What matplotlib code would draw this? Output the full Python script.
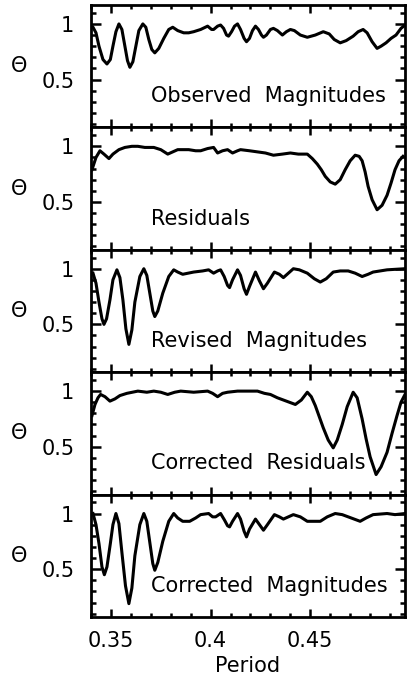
import matplotlib
matplotlib.use("Agg")
import matplotlib.pyplot as plt
from matplotlib.ticker import MultipleLocator, FixedLocator

plt.rcParams['font.family'] = ['DejaVu Sans']

# ---- data ----
obs_p = [0.341, 0.3425, 0.344, 0.346, 0.348, 0.3497, 0.351, 0.3525, 0.354, 0.3555,
         0.357, 0.3583, 0.3595, 0.361, 0.3625, 0.364, 0.366, 0.3675, 0.369, 0.3705,
         0.372, 0.374, 0.3765, 0.379, 0.381, 0.3835, 0.3865, 0.389, 0.3915, 0.395,
         0.3985, 0.4005, 0.4015, 0.4035, 0.405, 0.4065, 0.408, 0.409, 0.4105, 0.412,
         0.4135, 0.415, 0.4168, 0.418, 0.4195, 0.421, 0.4225, 0.424, 0.4255, 0.4265,
         0.428, 0.430, 0.4315, 0.4335, 0.436, 0.438, 0.440, 0.442, 0.445, 0.4485,
         0.4525, 0.4565, 0.4595, 0.462, 0.465, 0.468, 0.4715, 0.474, 0.4765, 0.4785,
         0.481, 0.4835, 0.4855, 0.488, 0.4905, 0.493, 0.4955, 0.4975]
obs_t = [0.97, 0.92, 0.80, 0.68, 0.64, 0.68, 0.80, 0.93, 1.00, 0.95,
         0.80, 0.67, 0.61, 0.66, 0.80, 0.94, 1.00, 0.97, 0.86, 0.77,
         0.74, 0.78, 0.87, 0.95, 0.97, 0.94, 0.92, 0.92, 0.93, 0.95,
         0.98, 0.95, 0.95, 0.98, 0.99, 0.96, 0.90, 0.89, 0.93, 0.98,
         1.00, 0.95, 0.87, 0.84, 0.87, 0.94, 0.98, 0.95, 0.90, 0.88,
         0.90, 0.95, 0.96, 0.94, 0.90, 0.93, 0.95, 0.94, 0.90, 0.88,
         0.90, 0.93, 0.91, 0.86, 0.83, 0.85, 0.89, 0.93, 0.95, 0.92,
         0.84, 0.78, 0.80, 0.83, 0.87, 0.90, 0.96, 0.99]

res_p = [0.3405, 0.3425, 0.3445, 0.3465, 0.349, 0.351, 0.354, 0.357, 0.3605, 0.3635,
         0.367, 0.3715, 0.375, 0.3785, 0.381, 0.3835, 0.389, 0.3925, 0.395, 0.3985,
         0.4015, 0.4035, 0.406, 0.4085, 0.411, 0.4135, 0.415, 0.4195, 0.4235, 0.4275,
         0.4315, 0.436, 0.440, 0.444, 0.4485, 0.451, 0.4535, 0.4555, 0.4575, 0.460,
         0.4625, 0.465, 0.4675, 0.470, 0.4725, 0.4745, 0.476, 0.4775, 0.479, 0.481,
         0.4835, 0.486, 0.4885, 0.4905, 0.4925, 0.4945, 0.4965]
res_t = [0.79, 0.90, 0.96, 0.93, 0.89, 0.93, 0.97, 0.99, 1.00, 1.00,
         0.99, 0.99, 0.97, 0.93, 0.95, 0.97, 0.97, 0.96, 0.96, 0.98,
         0.99, 0.94, 0.96, 0.97, 0.94, 0.96, 0.97, 0.96, 0.95, 0.94,
         0.92, 0.93, 0.94, 0.93, 0.93, 0.89, 0.84, 0.79, 0.73, 0.68,
         0.66, 0.70, 0.79, 0.87, 0.92, 0.91, 0.87, 0.77, 0.64, 0.52,
         0.43, 0.47, 0.56, 0.67, 0.79, 0.87, 0.91]

rev_p = [0.341, 0.3425, 0.344, 0.3455, 0.3465, 0.3478, 0.3495, 0.351, 0.353, 0.3545,
         0.356, 0.3575, 0.359, 0.3605, 0.362, 0.3645, 0.3665, 0.368, 0.3695, 0.371,
         0.372, 0.3735, 0.376, 0.379, 0.3815, 0.3835, 0.386, 0.3915, 0.396, 0.399,
         0.4015, 0.4035, 0.405, 0.4068, 0.4085, 0.4095, 0.411, 0.4135, 0.415, 0.4168,
         0.418, 0.4195, 0.4225, 0.4245, 0.4265, 0.4285, 0.432, 0.4345, 0.4365, 0.439,
         0.4415, 0.4445, 0.4485, 0.452, 0.455, 0.458, 0.4615, 0.465, 0.469, 0.4725,
         0.476, 0.479, 0.4815, 0.4885, 0.4975]
rev_t = [0.96, 0.87, 0.70, 0.55, 0.50, 0.55, 0.72, 0.90, 0.99, 0.92,
         0.72, 0.46, 0.32, 0.45, 0.70, 0.93, 1.00, 0.94, 0.78, 0.62,
         0.57, 0.62, 0.78, 0.93, 0.99, 0.97, 0.95, 0.97, 0.98, 0.99,
         0.96, 0.98, 0.99, 0.93, 0.85, 0.83, 0.90, 0.99, 0.94, 0.82,
         0.77, 0.84, 0.97, 0.89, 0.82, 0.87, 0.97, 0.95, 0.92, 0.96,
         1.00, 0.99, 0.96, 0.91, 0.88, 0.91, 0.97, 0.98, 0.98, 0.96,
         0.93, 0.95, 0.97, 0.99, 1.00]

cres_p = [0.3405, 0.342, 0.3435, 0.3448, 0.347, 0.3495, 0.352, 0.3545, 0.358, 0.3635,
          0.368, 0.3715, 0.375, 0.3785, 0.382, 0.385, 0.3915, 0.3985, 0.401, 0.4035,
          0.406, 0.4085, 0.4135, 0.419, 0.4235, 0.427, 0.430, 0.4335, 0.4365, 0.4395,
          0.4425, 0.4455, 0.4485, 0.4505, 0.4525, 0.4545, 0.4565, 0.459, 0.4615, 0.4635,
          0.466, 0.4685, 0.4715, 0.4735, 0.476, 0.478, 0.480, 0.483, 0.4855, 0.4885,
          0.491, 0.4935, 0.4955, 0.4975]
cres_t = [0.78, 0.88, 0.94, 0.97, 0.95, 0.91, 0.93, 0.96, 0.98, 1.00,
          0.99, 1.00, 0.99, 0.97, 0.99, 1.00, 0.99, 1.00, 0.98, 0.95,
          0.98, 0.99, 1.00, 1.00, 1.00, 0.98, 0.97, 0.94, 0.92, 0.90,
          0.88, 0.92, 0.99, 0.95, 0.87, 0.77, 0.67, 0.56, 0.49, 0.56,
          0.70, 0.86, 0.99, 0.94, 0.75, 0.57, 0.41, 0.25, 0.32, 0.45,
          0.62, 0.78, 0.90, 0.97]

cmag_p = [0.341, 0.3425, 0.344, 0.3455, 0.3467, 0.348, 0.3497, 0.351, 0.3525, 0.354,
          0.3555, 0.3573, 0.359, 0.3605, 0.362, 0.3645, 0.3665, 0.368, 0.3695, 0.371,
          0.372, 0.3735, 0.376, 0.379, 0.3815, 0.3835, 0.386, 0.3895, 0.3925, 0.395,
          0.399, 0.401, 0.4025, 0.405, 0.407, 0.4085, 0.4095, 0.411, 0.4135, 0.415,
          0.4168, 0.418, 0.4195, 0.4225, 0.4245, 0.4265, 0.4285, 0.432, 0.4345, 0.4365,
          0.439, 0.4415, 0.445, 0.4485, 0.452, 0.455, 0.4585, 0.4625, 0.466, 0.469,
          0.472, 0.475, 0.478, 0.4815, 0.4885, 0.4925, 0.4975]
cmag_t = [1.00, 0.90, 0.73, 0.52, 0.45, 0.52, 0.73, 0.90, 1.00, 0.91,
          0.65, 0.35, 0.19, 0.33, 0.62, 0.90, 1.00, 0.93, 0.74, 0.55,
          0.49, 0.56, 0.75, 0.93, 1.00, 0.96, 0.93, 0.93, 0.96, 0.99,
          1.00, 0.97, 0.97, 1.00, 0.94, 0.89, 0.88, 0.93, 1.00, 0.95,
          0.84, 0.79, 0.86, 0.95, 0.90, 0.85, 0.90, 0.99, 0.97, 0.95,
          0.97, 0.99, 0.97, 0.93, 0.93, 0.93, 0.97, 1.00, 0.99, 0.97,
          0.95, 0.93, 0.96, 0.99, 1.00, 0.99, 1.00]

panel_labels = ["Observed  Magnitudes", "Residuals", "Revised  Magnitudes",
                "Corrected  Residuals", "Corrected  Magnitudes"]
series = [(obs_p, obs_t), (res_p, res_t), (rev_p, rev_t), (cres_p, cres_t), (cmag_p, cmag_t)]
x_ticks = [0.35, 0.4, 0.45]
x_ticklabels = ["0.35", "0.4", "0.45"]
y_ticks = [0.5, 1.0]
y_ticklabels = ["0.5", "1"]

W, H = 408, 681
fig = plt.figure(figsize=(W / 100, H / 100), dpi=100)

left_px, right_px = 91, 405
top_px, bottom_px = 5, 617
n = len(series)
ph = (bottom_px - top_px) / n

for i, ((xp, yp), lab) in enumerate(zip(series, panel_labels)):
    t = top_px + i * ph
    ax = fig.add_axes([left_px / W, 1 - (t + ph) / H, (right_px - left_px) / W, ph / H])
    ax.plot(xp, yp, color='black', lw=2.2, solid_joinstyle='round')
    ax.set_xlim(0.34, 0.4975)
    ax.set_ylim(0.07, 1.17)
    ax.xaxis.set_major_locator(FixedLocator(x_ticks))
    ax.xaxis.set_minor_locator(MultipleLocator(0.01))
    ax.yaxis.set_major_locator(FixedLocator(y_ticks))
    ax.yaxis.set_minor_locator(MultipleLocator(0.1))
    ax.set_yticklabels(y_ticklabels)
    ax.tick_params(which='both', direction='in', top=True, right=True, width=1.8)
    ax.tick_params(axis='x', which='major', length=6)
    ax.tick_params(axis='x', which='minor', length=3)
    ax.tick_params(axis='y', which='major', length=7.5)
    ax.tick_params(axis='y', which='minor', length=3.8)
    ax.tick_params(axis='y', labelsize=15, pad=12)
    for s in ax.spines.values():
        s.set_linewidth(2)
    ax.set_ylabel("Θ", fontsize=15, rotation=0, va='center', ha='center')
    ax.yaxis.set_label_coords((19 - left_px) / (right_px - left_px), 0.5)
    ax.text(0.37, 0.35, lab, fontsize=15, ha='left', va='center')
    if i < n - 1:
        ax.set_xticklabels([])
    else:
        ax.set_xticklabels(x_ticklabels)
        ax.tick_params(axis='x', labelsize=15, pad=10)
        ax.set_xlabel("Period", fontsize=15, labelpad=4)

fig.savefig("out.png", dpi=100)
